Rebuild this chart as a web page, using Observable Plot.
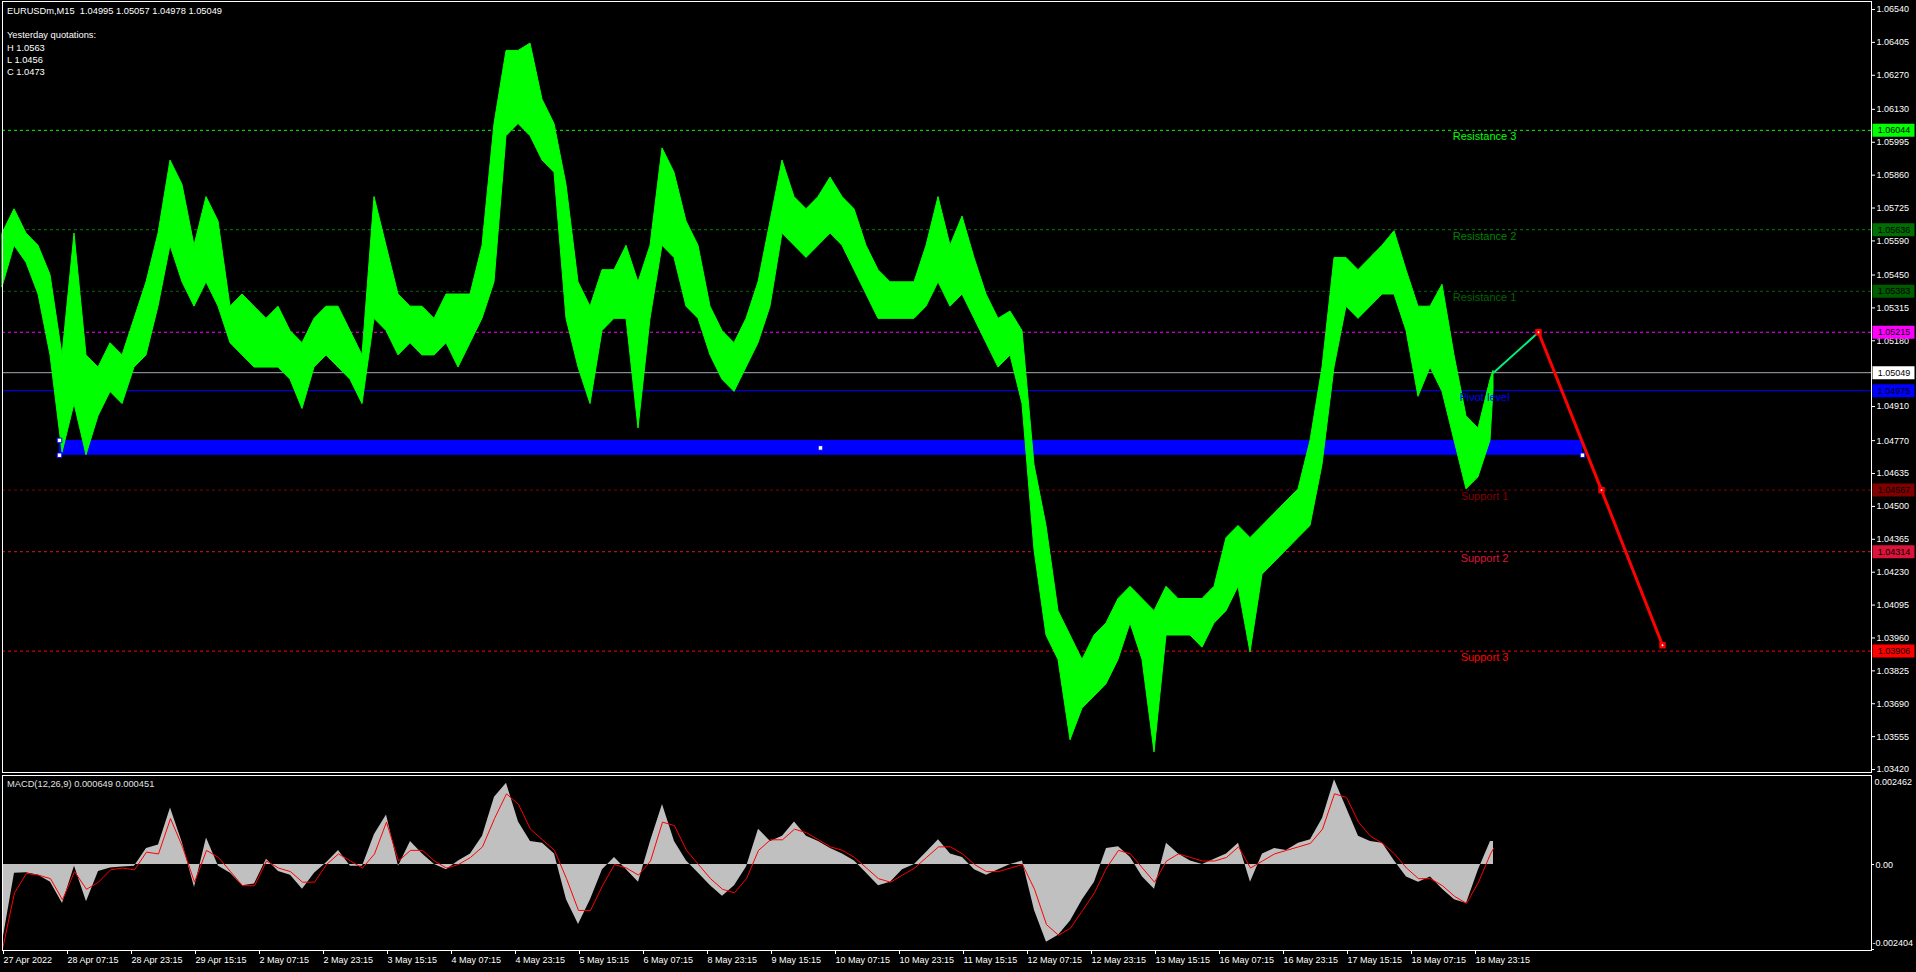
<!DOCTYPE html>
<html><head><meta charset="utf-8">
<script src="https://cdn.jsdelivr.net/npm/d3@7"></script>
<script src="https://cdn.jsdelivr.net/npm/@observablehq/plot@0.6"></script>
<style>
html,body{margin:0;padding:0;background:#000;}
#wrap{position:relative;width:1916px;height:972px;background:#000;overflow:hidden;font-family:"Liberation Sans",Arial,sans-serif;}
#main{position:absolute;left:0;top:0;}
#macd{position:absolute;left:0;top:773px;}
.lbl{position:absolute;color:#fff;font-size:9.3px;white-space:pre;line-height:12px;}
</style></head><body>
<div id="wrap"><div id="main"></div><div id="macd"></div></div>
<script>
// ---------- DATA ----------
const symbol = "EURUSDm,M15";
const quote = [1.04995, 1.05057, 1.04978, 1.05049];
const yesterdayKeys = ["H", "L", "C"];
const yesterdayVals = [1.0563, 1.0456, 1.0473];
const macdName = "MACD(12,26,9)";
const macdLegend = [0.000649, 0.000451];

const bars = [0,12,24,36,48,60,72,84,96,108,120,132,144,156,168,180,192,204,216,228,240,252,264,276,288,300,312,324,336,348,360,372,384,396,408,420,432,444,456,468,480,492,504,516,528,540,552,564,576,588,600,612,624,636,648,660,672,684,696,708,720,732,744,756,768,780,792,804,816,828,840,852,864,876,888,900,912,924,936,948,960,972,984,996,1008,1020,1032,1044,1056,1068,1080,1092,1104,1116,1128,1140,1152,1164,1176,1188,1200,1212,1224,1236,1248,1260,1272,1284,1296,1308,1320,1332,1344,1356,1368,1380,1392,1404,1416,1428,1440,1452,1464,1476,1488,1491];
const hi = [1.0562,1.0572,1.0562,1.0557,1.0545,1.0512,1.0562,1.0512,1.0507,1.0517,
 1.0512,1.0527,1.0542,1.0562,1.0592,1.0582,1.0557,1.0577,1.0567,1.0532,
 1.0537,1.0532,1.0527,1.0532,1.0522,1.0517,1.0527,1.0532,1.0532,1.0522,
 1.0512,1.0577,1.0557,1.0537,1.0532,1.0532,1.0527,1.0537,1.0537,1.0537,
 1.0557,1.0607,1.0637,1.0637,1.0640,1.0617,1.0607,1.0582,1.0542,1.0532,
 1.0547,1.0547,1.0557,1.0542,1.0557,1.0597,1.0587,1.0567,1.0557,1.0532,
 1.0522,1.0517,1.0527,1.0542,1.0567,1.0592,1.0577,1.0572,1.0577,1.0585,
 1.0577,1.0572,1.0557,1.0547,1.0542,1.0542,1.0542,1.0557,1.0577,1.0557,
 1.0569,1.0552,1.0537,1.0527,1.0530,1.0522,1.0467,1.0442,1.0407,1.0397,
 1.0387,1.0397,1.0402,1.0412,1.0417,1.0412,1.0407,1.0417,1.0412,1.0412,
 1.0412,1.0417,1.0437,1.0442,1.0437,1.0442,1.0447,1.0452,1.0457,1.0477,
 1.0507,1.0552,1.0552,1.0547,1.0552,1.0557,1.0563,1.0547,1.0532,1.0532,
 1.0541,1.0512,1.0487,1.0482,1.0502,1.05057];
const lo = [1.0540,1.0557,1.0550,1.0537,1.0512,1.0472,1.0492,1.0471,1.0487,1.0497,
 1.0492,1.0507,1.0512,1.0532,1.0557,1.0542,1.0532,1.0542,1.0532,1.0517,
 1.0512,1.0507,1.0507,1.0507,1.0502,1.0490,1.0507,1.0512,1.0507,1.0502,
 1.0492,1.0527,1.0522,1.0512,1.0517,1.0512,1.0512,1.0517,1.0507,1.0517,
 1.0527,1.0542,1.0602,1.0607,1.0602,1.0592,1.0587,1.0527,1.0507,1.0492,
 1.0522,1.0527,1.0527,1.0482,1.0527,1.0557,1.0552,1.0532,1.0527,1.0512,
 1.0502,1.0497,1.0507,1.0517,1.0532,1.0562,1.0557,1.0552,1.0557,1.0562,
 1.0557,1.0547,1.0537,1.0527,1.0527,1.0527,1.0527,1.0532,1.0542,1.0532,
 1.0537,1.0527,1.0517,1.0507,1.0512,1.0492,1.0432,1.0397,1.0387,1.0354,
 1.0367,1.0372,1.0377,1.0387,1.0402,1.0387,1.0349,1.0397,1.0397,1.0397,
 1.0392,1.0402,1.0407,1.0417,1.0390,1.0422,1.0427,1.0432,1.0437,1.0442,
 1.0467,1.0507,1.0532,1.0527,1.0532,1.0537,1.0537,1.0522,1.0495,1.0507,
 1.0497,1.0477,1.0457,1.0462,1.0477,1.04978];
const macdHist = [-0.0022,-0.00025,-0.00023,-0.0003,-0.0005,-0.0011,-0.00005,-0.00105,-0.0002,-0.0001,
 -0.00007,-0.00005,0.00045,0.00055,0.0016,0.0006,-0.00065,0.00075,-0.00005,-0.00025,
 -0.0006,-0.00055,0.00015,-0.0002,-0.0003,-0.0007,-0.00025,0.00005,0.0004,-0.00005,
 -0.00005,0.00085,0.0014,-0.00005,0.00065,0.0003,0,-0.00015,0.0001,0.0003,
 0.0008,0.0019,0.0023,0.0012,0.00065,0.0006,0.0003,-0.001,-0.0017,-0.001,
 -0.00015,0.0002,-0.00015,-0.0005,0.00065,0.0017,0.00065,0.0001,-0.00025,-0.0006,
 -0.0009,-0.0006,-0.00007,0.001,0.00065,0.0008,0.0012,0.0008,0.00065,0.00045,
 0.0003,0.0001,-0.00025,-0.0006,-0.0005,-0.00015,0,0.00035,0.0007,0.0003,
 0.0002,-0.00015,-0.0003,-0.00015,0,0.0001,-0.0013,-0.0022,-0.002,-0.0016,
 -0.001,-0.0005,0.00045,0.0005,0.0002,-0.00035,-0.0007,0.0006,0.0003,0.0001,
 0,0.00015,0.0003,0.0006,-0.0005,0.0003,0.00045,0.0004,0.0006,0.0007,
 0.0013,0.0024,0.0016,0.0008,0.00065,0.0006,0.0001,-0.00035,-0.0005,-0.00035,
 -0.0007,-0.001,-0.0011,-0.00015,0.00065,0.000649];
const macdSignal = [-0.0024,-0.0008,-0.00025,-0.0003,-0.0004,-0.001,-0.0002,-0.0007,-0.0005,-0.00015,
 -0.0001,-0.00015,0.00035,0.0003,0.0013,0.0005,-0.0005,0.0004,0.0002,-0.0002,
 -0.0006,-0.0006,0.0001,-0.0001,-0.0002,-0.0005,-0.0005,0,0.0003,0.0001,
 -0.0001,0.0003,0.0012,0.0001,0.0004,0.0004,0.0001,-0.0001,0,0.0002,
 0.0005,0.0013,0.002,0.0017,0.001,0.0007,0.0004,-0.0004,-0.0013,-0.0013,
 -0.0006,0,-0.0001,-0.0003,0.0001,0.0012,0.0011,0.0004,0,-0.0004,
 -0.0007,-0.0008,-0.0004,0.0004,0.0007,0.0007,0.001,0.0009,0.0007,0.0005,
 0.0004,0.0002,-0.0001,-0.0004,-0.0005,-0.0003,-0.0001,0.0002,0.0005,0.0005,
 0.0003,0,-0.0002,-0.0002,-0.0001,0,-0.0007,-0.0017,-0.002,-0.0018,
 -0.0013,-0.0008,-0.0001,0.0004,0.0003,-0.0001,-0.0005,0.0001,0.0003,0.0002,
 0.0001,0.0001,0.0002,0.0005,-0.0001,0.0001,0.0003,0.0004,0.0005,0.0006,
 0.001,0.002,0.0019,0.0012,0.0008,0.0006,0.0003,-0.0001,-0.0004,-0.0004,
 -0.0006,-0.0009,-0.0011,-0.0005,0.0003,0.000451];

const priceTicks = [1.0654,1.06405,1.0627,1.0613,1.05995,1.0586,1.05725,1.0559,1.0545,1.05315,1.0518,1.0491,1.0477,1.04635,1.045,1.04365,1.0423,1.04095,1.0396,1.03825,1.0369,1.03555,1.0342];
const timeTickBars = [0,64,128,192,256,320,384,448,512,576,640,704,768,832,896,960,1024,1088,1152,1216,1280,1344,1408,1472];
const timeTickLabels = ["27 Apr 2022","28 Apr 07:15","28 Apr 23:15","29 Apr 15:15","2 May 07:15","2 May 23:15","3 May 15:15","4 May 07:15","4 May 23:15","5 May 15:15","6 May 07:15","8 May 23:15","9 May 15:15","10 May 07:15","10 May 23:15","11 May 15:15","12 May 07:15","12 May 23:15","13 May 15:15","16 May 07:15","16 May 23:15","17 May 15:15","18 May 07:15","18 May 23:15"];
const macdAxis = [0.002462, 0, -0.002404];
const macdAxisText = ["0.002462", "0.00", "-0.002404"];

const levelPrice = [1.06044, 1.05636, 1.05383, 1.05215, 1.05049, 1.04975, 1.04567, 1.04314, 1.03906];
const levelName = ["Resistance 3", "Resistance 2", "Resistance 1", "", "", "Pivot level", "Support 1", "Support 2", "Support 3"];
const rectBars = [57, 1580];
const rectPrices = [1.04710, 1.04771];
const rectAnchorBars = [57, 57, 818, 1580];
const rectAnchorPrices = [1.04771, 1.04710, 1.04740, 1.04710];
const trendBars = [1491, 1536, 1599, 1660];
const trendPrices = [1.05049, 1.05215, 1.04567, 1.03930];

// ---------- STYLES ----------
const levelLine = ["#00ff00", "#008000", "#006400", "#ff00ff", "#a3abb4", "#0000ff", "#800000", "#dc143c", "#ff0000"];
const levelTag  = ["#00ff00", "#006e00", "#005a00", "#ff00ff", "#ffffff", "#0000ff", "#800000", "#dc143c", "#ff0000"];
const levelDashed = [true, true, true, true, false, false, true, true, true];
const FONT = "Liberation Sans, Arial, sans-serif";

// ---------- HEADER TEXT ----------
const wrap = document.getElementById("wrap");
function addLabel(txt, left, top, color) {
  const d = document.createElement("div");
  d.className = "lbl"; d.textContent = txt;
  d.style.left = left + "px"; d.style.top = top + "px";
  if (color) d.style.color = color;
  wrap.appendChild(d);
}
addLabel(symbol + "  " + quote.map(v => v.toFixed(5)).join(" "), 7, 5);
addLabel("Yesterday quotations:", 7, 29);
yesterdayKeys.forEach((k, i) => addLabel(k + " " + yesterdayVals[i].toFixed(4), 7, 42 + i * 12));
addLabel(macdName + " " + macdLegend.map(v => v.toFixed(6)).join(" "), 7, 778, "#e0e0e0");

// ---------- MAIN PANEL ----------
const idx = bars.map((_, i) => i);
const lvl = levelPrice.map((_, i) => i);
const named = lvl.filter(i => levelName[i]);
const xScale = {domain: [0, 1869], range: [2, 1871], axis: null};

const main = Plot.plot({
  width: 1916, height: 773,
  marginLeft: 2, marginRight: 45, marginTop: 1, marginBottom: 1,
  style: {background: "#000", color: "#fff", fontFamily: FONT, fontSize: "9px", overflow: "visible"},
  x: xScale,
  y: {domain: [1.0342, 1.0654], range: [769, 9], axis: null},
  marks: [
    Plot.rect([0], {x1: rectBars[0], x2: rectBars[1], y1: rectPrices[0], y2: rectPrices[1], fill: "#0000ff"}),
    Plot.ruleY(lvl.filter(i => levelDashed[i]), {y: i => levelPrice[i], x1: 0, x2: 1869, stroke: i => levelLine[i], strokeDasharray: "3,3"}),
    Plot.ruleY(lvl.filter(i => !levelDashed[i]), {y: i => levelPrice[i], x1: 0, x2: 1869, stroke: i => levelLine[i]}),
    Plot.areaY(idx, {x: i => bars[i], y1: i => lo[i], y2: i => hi[i], fill: "#00ff00", stroke: "#00ff00", strokeWidth: 1}),
    Plot.dot(rectAnchorBars.map((_, i) => i), {x: i => rectAnchorBars[i], y: i => rectAnchorPrices[i], symbol: "square", r: 2.6, fill: "#fff", stroke: "#0000ff", strokeWidth: 1}),
    Plot.text(named, {x: 1482, y: i => levelPrice[i], text: i => levelName[i], fill: i => levelLine[i], fontSize: 11, lineAnchor: "top", dy: 2}),
    Plot.line([0, 1], {x: i => trendBars[i], y: i => trendPrices[i], stroke: "#00f07c", strokeWidth: 2}),
    Plot.line([1, 2, 3], {x: i => trendBars[i], y: i => trendPrices[i], stroke: "#ff0000", strokeWidth: 3}),
    Plot.dot([1, 2, 3], {x: i => trendBars[i], y: i => trendPrices[i], symbol: "square", r: 3.6, fill: "#ff0000"}),
    Plot.dot([1, 2, 3], {x: i => trendBars[i], y: i => trendPrices[i], r: 0.9, fill: "#fff"}),
    Plot.frame({stroke: "#fff"}),
    Plot.axisY(priceTicks, {anchor: "right", tickSize: 3, tickPadding: 2, tickFormat: d => d.toFixed(5), fontSize: 9}),
    Plot.ruleY(lvl, {y: i => levelPrice[i], x1: 1870.5, x2: 1912.5, stroke: i => levelTag[i], strokeWidth: 13}),
    Plot.text(lvl, {x: 1891.5, y: i => levelPrice[i], text: i => levelPrice[i].toFixed(5), fill: "#000", fontSize: 9})
  ]
});
document.getElementById("main").appendChild(main);

// ---------- MACD PANEL ----------
const timeLabel = new Map(timeTickBars.map((b, i) => [b, timeTickLabels[i]]));
const macd = Plot.plot({
  width: 1916, height: 199,
  marginLeft: 2, marginRight: 45, marginTop: 2, marginBottom: 22,
  style: {background: "#000", color: "#fff", fontFamily: FONT, fontSize: "9px", overflow: "visible"},
  x: xScale,
  y: {domain: [-0.002404, 0.002462], range: [176, 4], axis: null},
  marks: [
    Plot.areaY(idx, {x: i => bars[i], y1: 0, y2: i => macdHist[i], fill: "#c0c0c0"}),
    Plot.line(idx, {x: i => bars[i], y: i => macdSignal[i], stroke: "#ff0000", strokeWidth: 1}),
    Plot.frame({stroke: "#fff"}),
    Plot.axisX(timeTickBars, {anchor: "bottom", tickSize: 4, tickPadding: 2, tickFormat: d => timeLabel.get(d), textAnchor: "start", dx: 1, fontSize: 9}),
    Plot.ruleY(macdAxis.slice(1), {y: d => d, x1: 1869, x2: 1872, stroke: "#fff"}),
    Plot.text([0], {y: () => macdAxis[0], frameAnchor: "right", textAnchor: "start", dx: 3, dy: 5, text: () => macdAxisText[0], fill: "#fff"}),
    Plot.text([1], {y: () => macdAxis[1], frameAnchor: "right", textAnchor: "start", dx: 4, dy: 1, text: () => macdAxisText[1], fill: "#fff"}),
    Plot.text([2], {y: () => macdAxis[2], frameAnchor: "right", textAnchor: "start", dx: 1, dy: -6, text: () => macdAxisText[2], fill: "#fff"})
  ]
});
document.getElementById("macd").appendChild(macd);
</script>
</body></html>
